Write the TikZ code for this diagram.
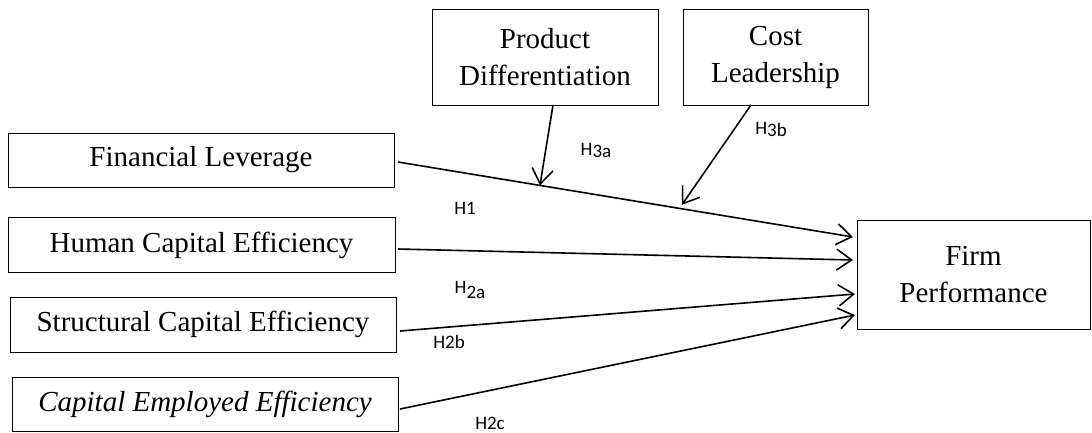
\documentclass[tikz,border=0pt]{standalone}
\usepackage{fontspec}
\setmainfont{Liberation Serif}
\newfontfamily\lblfont{Carlito}
\usetikzlibrary{arrows.meta,calc}
\begin{document}
\begin{tikzpicture}[x=1pt,y=-1pt,
  box/.style={draw,line width=0.9pt,inner sep=0pt,outer sep=0pt,align=center,
    font=\fontsize{29}{37}\selectfont},
  conn/.style={line width=1.6pt,-{Straight Barb[length=15pt,width=21pt,line width=1.6pt]}},
  lbl/.style={font=\lblfont\fontsize{19}{21}\selectfont,inner sep=0pt}]
\useasboundingbox (0,0) rectangle (1092,432);
\node[box,minimum width=386pt,minimum height=54pt] (fl) at (201,160) {Financial Leverage};
\node[box,minimum width=387pt,minimum height=55pt] (hce) at (201.5,245) {Human Capital Efficiency};
\node[box,minimum width=386pt,minimum height=55pt] (sce) at (203,324.5) {Structural Capital Efficiency};
\node[box,minimum width=386pt,minimum height=54pt] (cee) at (205,404) {\itshape Capital Employed Efficiency};
\node[box,minimum width=226pt,minimum height=96pt] (pd) at (545,57) {Product\\Differentiation};
\node[box,minimum width=185pt,minimum height=96pt] (cl) at (775.5,57) {Cost\\Leadership};
\node[box,minimum width=233pt,minimum height=109pt] (fp) at (973.5,274.5) {Firm\\Performance};
% start and end points
\coordinate (s1) at ($(fl.east)+(4,2)$);
\coordinate (e1) at ($(fp.north west)+(-4,17)$);
\coordinate (s2) at ($(hce.east)+(3,4)$);
\coordinate (e2) at ($(fp.north west)+(-4,40)$);
\coordinate (s3) at ($(sce.east)+(4,6.5)$);
\coordinate (e3) at ($(fp.north west)+(-2,74)$);
\coordinate (s4) at ($(cee.east)+(2,5)$);
\coordinate (e4) at ($(fp.north west)+(-2,95)$);
\draw[conn] (s1) -- (e1);
\draw[conn] (s2) -- (e2);
\draw[conn] (s3) -- (e3);
\draw[conn] (s4) -- (e4);
\coordinate (m1) at ($(s1)!0.312!(e1)$);
\coordinate (m2) at ($(s1)!0.624!(e1)+(0,-4)$);
\draw[conn] ($(pd.south)+(8,0)$) -- (m1);
\draw[conn] ($(cl.south)+(-24.5,0)$) -- (m2);
\node[lbl] (h3a) at (596,150) {H\raisebox{-2pt}{3a}};
\node[lbl] (h3b) at (771,129) {H\raisebox{-2pt}{3b}};
\node[lbl] (h1) at (465,208) {H1};
\node[lbl] (h2a) at (470,290) {H\raisebox{-5pt}{2a}};
\node[lbl] (h2b) at (449,342) {H2b};
\node[lbl] (h2c) at (490,423) {H2c};
\end{tikzpicture}
\end{document}
